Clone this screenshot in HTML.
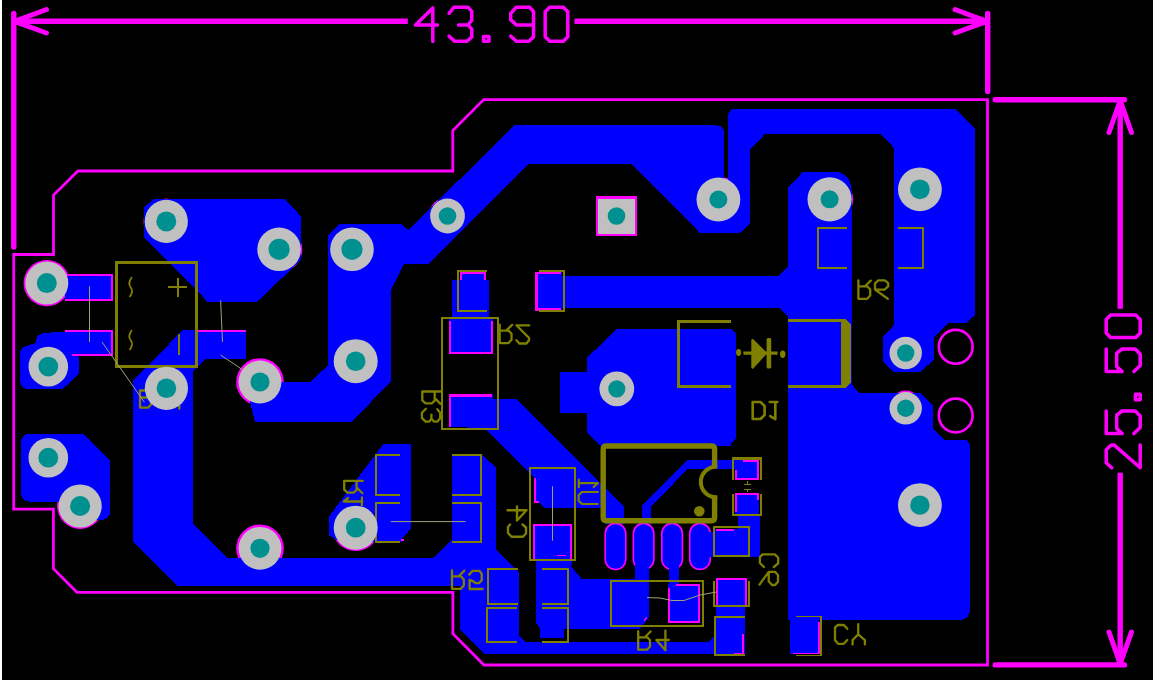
<!DOCTYPE html>
<html><head><meta charset="utf-8"><title>PCB</title>
<style>html,body{margin:0;padding:0;background:#000;overflow:hidden}svg{display:block}</style></head>
<body><svg width="1153" height="682" viewBox="0 0 1153 682">
<rect width="1153" height="682" fill="#000"/>
<circle cx="166.3" cy="221.4" r="22.8" fill="#FF00FF"/>
<circle cx="46.8" cy="283.1" r="23.2" fill="#FF00FF"/>
<circle cx="166.4" cy="388.3" r="22.6" fill="#FF00FF"/>
<circle cx="80.1" cy="506" r="23.0" fill="#FF00FF"/>
<circle cx="279.1" cy="249.3" r="23.2" fill="#FF00FF"/>
<circle cx="260" cy="382" r="23.799999999999997" fill="#FF00FF"/>
<circle cx="260" cy="548.3" r="23.799999999999997" fill="#FF00FF"/>
<circle cx="355.7" cy="527.7" r="23.4" fill="#FF00FF"/>
<circle cx="447.5" cy="216" r="18.799999999999997" fill="#FF00FF"/>
<circle cx="718.4" cy="199.5" r="23.099999999999998" fill="#FF00FF"/>
<circle cx="829.6" cy="199.3" r="23.5" fill="#FF00FF"/>
<circle cx="905.7" cy="408.2" r="17.599999999999998" fill="#FF00FF"/>
<g shape-rendering="crispEdges">
<polygon points="143.6,208 153,199.3 284.9,199.3 300.5,215.6 300.5,260.3 256.6,302.3 208.3,302.3 143.6,237.4" fill="#0000FF" />
<rect x="64.5" y="273.9" width="48.9" height="26.9" fill="#0000FF" />
<rect x="64.5" y="329.5" width="48.9" height="26.0" fill="#0000FF" />
<path d="M64.5,331.6 L44,333 Q36.4,334 36.4,340 L36.4,343 Q28,345 24,347 Q20.2,349 20.2,354 L20.2,381 Q20.2,389.3 29,389.3 L62.4,389.3 L78.7,374.3 L78.7,356.7 L72.9,354.6 Z" fill="#0000FF"/>
<path d="M30.8,433.7 L83.3,433.7 L110.3,460.7 L110.3,510 Q110.3,520 100,520 L80,520 L60,501.8 L30.8,501.8 Q20.8,501.8 20.8,491.8 L20.8,443.7 Q20.8,433.7 30.8,433.7 Z" fill="#0000FF"/>
<polygon points="183.2,329.5 246.2,329.5 246.2,358.5 206,358.5 192.5,372 192.5,523.3 226.9,557.6 433.4,557.6 452.2,539.3 452.2,455 482.4,455 495.9,467.5 495.9,549.4 519,572 519,635.3 526,642.3 707.9,642.3 714,637 716,637 716,653.6 484.6,653.6 459.7,629 459.7,586.2 178,586.2 133.2,542 133.2,380.6" fill="#0000FF" />
<rect x="716.1" y="605" width="28.4" height="49.8" fill="#0000FF" />
<polygon points="383,444.4 411.2,444.4 411.2,528.5 402.4,538.2 402.4,542 340,542 329.4,535.6 329.4,516" fill="#0000FF" />
<path d="M328,235.3 L339,224.3 L402,224.3 L408.2,230 L514.5,125.4 L716,125.4 Q724,125.4 724,133.4 L724,200 L750.4,200 L750.4,222.7 L740,233 L700,233 L631.4,163.9 L529,163.9 L429,263.7 L404,263.7 L391,290 L391,381 L352,422 L255,422 L250,402 L262,382 L310.3,382 L328,365.3 Z" fill="#0000FF"/>
<path d="M728.2,205 L728.2,116.7 Q728.2,108.7 736.2,108.7 L955.3,108.7 L974.8,128.3 L974.8,315.5 L966,323.2 L948.4,323.2 L934.4,337.5 L934.4,359.3 L920.3,371.8 L893.2,371.8 L883.4,362.4 L883.4,336.4 L894.3,324.6 L894.3,148.3 L880.4,134.3 L764.7,134.3 L750.4,148.7 L750.4,222.7 L740,233 L728.2,233 Z" fill="#0000FF"/>
<path d="M787.7,187.4 L803.2,171.8 L836.5,171.8 Q851.6,174 851.6,192 L851.6,384.3 L858.9,392.6 L920.3,392.6 L933.2,406.2 L933.2,429 L944.2,439.5 L962.2,439.5 Q970.2,439.5 970.2,447.5 L970.2,608.1 Q970.2,620.1 958.2,620.1 L819.3,620.1 L819.3,654 L790.2,654 L790.2,620.1 L787.7,620.1 L787.7,316.6 L779.8,308.2 L545,308.2 L545,275.9 L778.6,275.9 L787.7,266.6 Z" fill="#0000FF"/>
<rect x="452" y="280" width="36.5" height="41" fill="#0000FF" />
<rect x="460" y="272" width="26" height="10" fill="#0000FF" />
<rect x="535" y="272" width="27.4" height="38.5" fill="#0000FF" />
<rect x="449" y="318" width="44" height="36" fill="#0000FF" />
<polygon points="559.9,372 587.3,372 587.3,357.5 616.5,329.1 731.1,329.1 736.3,334.1 736.3,438 730.5,444.2 730.5,446 600,446 587.3,432.4 587.3,412.6 559.9,412.6" fill="#0000FF" />
<polygon points="449,394 493,394 493,398.5 515.5,398.5 623.6,506.6 623.6,524 605,524 605,508.2 544.5,508.2 538.7,502.4 533.5,502.4 533.5,477 484.3,427.8 449,427.2" fill="#0000FF" />
<polygon points="533.3,524 572.4,524 572.4,560 571.3,566.5 581.4,578.5 635,578.5 635,555 649,555 649,617.4 640,629 563.5,629 563.5,638 540,638 540,628.2 536.2,623.6 536.2,560 533.3,560" fill="#0000FF" />
<polygon points="736,460.3 686.8,460.3 642.3,505 642.3,524 650.9,524 650.9,506.3 687.6,469.3 736,469.3" fill="#0000FF" />
<rect x="735" y="460" width="24.4" height="19.6" fill="#0000FF" />
<rect x="735" y="493" width="24.4" height="23" fill="#0000FF" />
<rect x="738.4" y="516" width="21.1" height="41" fill="#0000FF" />
<rect x="714.9" y="529" width="33.1" height="28" fill="#0000FF" />
<rect x="705" y="531.5" width="11" height="25.5" fill="#0000FF" />
<rect x="716.1" y="577.6" width="30.8" height="27.4" fill="#0000FF" />
<rect x="668.8" y="560" width="10.2" height="26" fill="#0000FF" />
<rect x="667.6" y="584.3" width="32.4" height="38.5" fill="#0000FF" />
</g>
<rect x="605.2" y="523.4" width="20.6" height="46.1" rx="10.3" ry="10.3" fill="#0000FF" stroke="#FF00FF" stroke-width="1.6"/>
<rect x="633.3000000000001" y="523.4" width="20.6" height="46.1" rx="10.3" ry="10.3" fill="#0000FF" stroke="#FF00FF" stroke-width="1.6"/>
<rect x="661.8000000000001" y="523.4" width="20.6" height="46.1" rx="10.3" ry="10.3" fill="#0000FF" stroke="#FF00FF" stroke-width="1.6"/>
<rect x="689.7" y="523.4" width="20.6" height="46.1" rx="10.3" ry="10.3" fill="#0000FF" stroke="#FF00FF" stroke-width="1.6"/>
<g shape-rendering="crispEdges">
<rect x="635" y="545" width="14" height="35" fill="#0000FF" />
<rect x="668.8" y="545" width="10.2" height="41" fill="#0000FF" />
<rect x="705" y="531.5" width="11" height="25.5" fill="#0000FF" />
</g>
<g shape-rendering="crispEdges">
<path d="M64.5,274.9 L112.4,274.9 L112.4,299.8 L64.5,299.8" fill="none" stroke="#FF00FF" stroke-width="2" stroke-linecap="butt" stroke-linejoin="miter" />
<path d="M64.5,330.5 L112.4,330.5 L112.4,354.5 L72,354.5" fill="none" stroke="#FF00FF" stroke-width="2" stroke-linecap="butt" stroke-linejoin="miter" />
<path d="M197.3,330.5 L246.2,330.5" fill="none" stroke="#FF00FF" stroke-width="2" stroke-linecap="butt" stroke-linejoin="miter" />
<path d="M461,280 L461,273 L485,273 L485,280" fill="none" stroke="#FF00FF" stroke-width="2" stroke-linecap="butt" stroke-linejoin="miter" />
<path d="M561,273 L536.5,273 L536.5,309.5 L561,309.5" fill="none" stroke="#FF00FF" stroke-width="2.2" stroke-linecap="butt" stroke-linejoin="miter" />
<path d="M536.3,272 L536.3,310.6" fill="none" stroke="#FF00FF" stroke-width="3" stroke-linecap="butt" stroke-linejoin="miter" />
<path d="M450,321 L450,353 L492,353 L492,321" fill="none" stroke="#FF00FF" stroke-width="2" stroke-linecap="butt" stroke-linejoin="miter" />
<path d="M450,427 L450,395.5 L492,395.5" fill="none" stroke="#FF00FF" stroke-width="2.4" stroke-linecap="butt" stroke-linejoin="miter" />
<path d="M534.5,478 L534.5,501.5 L539,501.5" fill="none" stroke="#FF00FF" stroke-width="2" stroke-linecap="butt" stroke-linejoin="miter" />
<path d="M534.3,560 L534.3,525 L571.4,525 L571.4,560" fill="none" stroke="#FF00FF" stroke-width="2" stroke-linecap="butt" stroke-linejoin="miter" />
<path d="M556.5,555.3 L565.5,555.3" fill="none" stroke="#FF00FF" stroke-width="1.2" stroke-linecap="butt" stroke-linejoin="miter" />
<path d="M736,470 L736,478.6 L758.4,478.6 L758.4,461 L743,461" fill="none" stroke="#FF00FF" stroke-width="2" stroke-linecap="butt" stroke-linejoin="miter" />
<path d="M736,512 L736,494 L758.4,494 L758.4,500" fill="none" stroke="#FF00FF" stroke-width="2" stroke-linecap="butt" stroke-linejoin="miter" />
<path d="M716,530.2 L734,530.2" fill="none" stroke="#FF00FF" stroke-width="2" stroke-linecap="butt" stroke-linejoin="miter" />
<path d="M717.1,605 L717.1,578.6 L745.9,578.6 L745.9,605" fill="none" stroke="#FF00FF" stroke-width="2" stroke-linecap="butt" stroke-linejoin="miter" />
<path d="M742.6,634 L742.6,653.8 L734,653.8" fill="none" stroke="#FF00FF" stroke-width="2" stroke-linecap="butt" stroke-linejoin="miter" />
<path d="M676,585.3 L699,585.3 L699,621.8 L668.6,621.8 L668.6,588" fill="none" stroke="#FF00FF" stroke-width="2.2" stroke-linecap="butt" stroke-linejoin="miter" />
<path d="M644,620.5 L647,617.5" fill="none" stroke="#FF00FF" stroke-width="2" stroke-linecap="butt" stroke-linejoin="miter" />
<path d="M819,622 L819,653.5 L793,653.5" fill="none" stroke="#FF00FF" stroke-width="1.4" stroke-linecap="butt" stroke-linejoin="miter" />
<path d="M400.5,540.3 L403.6,540.3" fill="none" stroke="#FF00FF" stroke-width="2" stroke-linecap="butt" stroke-linejoin="miter" />
</g>
<path d="M13.7,254.5 L53.5,254.5 L53.5,195 L78,171 L452.8,171 L452.8,130.6 L483.7,99.6 L987.5,99.6 L987.5,665 L484,665 L452.9,633.7 L452.9,592.3 L77,592.3 L53.4,568.7 L53.4,509.2 L13.7,509.2 Z" fill="none" stroke="#FF00FF" stroke-width="2.8" stroke-linejoin="miter"/>
<circle cx="955.7" cy="346.8" r="16.9" fill="none" stroke="#FF00FF" stroke-width="2.6"/>
<circle cx="955.7" cy="415.5" r="16.9" fill="none" stroke="#FF00FF" stroke-width="2.6"/>
<path d="M13.8,21.3 L407.8,21.3" fill="none" stroke="#FF00FF" stroke-width="5.4" stroke-linecap="butt" stroke-linejoin="miter" />
<path d="M574.5,21.3 L987.7,21.3" fill="none" stroke="#FF00FF" stroke-width="5.4" stroke-linecap="butt" stroke-linejoin="miter" />
<path d="M13.8,13.5 L13.8,247" fill="none" stroke="#FF00FF" stroke-width="5.4" stroke-linecap="round" stroke-linejoin="miter" />
<path d="M987.7,13.5 L987.7,91.5" fill="none" stroke="#FF00FF" stroke-width="5.4" stroke-linecap="round" stroke-linejoin="miter" />
<path d="M46.5,9.5 L14.5,21.3 L46.5,33" fill="none" stroke="#FF00FF" stroke-width="5" stroke-linecap="round" stroke-linejoin="round" />
<path d="M955,9.5 L987,21.3 L955,33" fill="none" stroke="#FF00FF" stroke-width="5" stroke-linecap="round" stroke-linejoin="round" />
<path d="M1120.2,100 L1120.2,308.7" fill="none" stroke="#FF00FF" stroke-width="5.4" stroke-linecap="butt" stroke-linejoin="miter" />
<path d="M1120.2,472.8 L1120.2,664.8" fill="none" stroke="#FF00FF" stroke-width="5.4" stroke-linecap="butt" stroke-linejoin="miter" />
<path d="M995.3,99.8 L1124.5,99.8" fill="none" stroke="#FF00FF" stroke-width="5.4" stroke-linecap="round" stroke-linejoin="miter" />
<path d="M995.3,664.9 L1124.5,664.9" fill="none" stroke="#FF00FF" stroke-width="5.4" stroke-linecap="round" stroke-linejoin="miter" />
<path d="M1109,132.5 L1120.2,100.5 L1131.5,132.5" fill="none" stroke="#FF00FF" stroke-width="5" stroke-linecap="round" stroke-linejoin="round" />
<path d="M1109,632 L1120.2,664 L1131.5,632" fill="none" stroke="#FF00FF" stroke-width="5" stroke-linecap="round" stroke-linejoin="round" />
<path d="M17.3,0.8 L17.3,34.2 M17.3,0.8 L0,17.8 L22,17.8" transform="translate(415.5,7.2)" fill="none" stroke="#FF00FF" stroke-width="3.5" stroke-linejoin="round" stroke-linecap="round"/>
<path d="M0,6.3 L5,0 L19,0 L22.8,4.2 L22.8,13 L19,17.7 L9.5,17.7 M19,17.7 L22.8,21.9 L22.8,29.7 L18.1,34 L5.6,34 L0,28.9" transform="translate(449,7.2)" fill="none" stroke="#FF00FF" stroke-width="3.5" stroke-linejoin="round" stroke-linecap="round"/>
<path d="M0.5,29.2 L6,29.2 L6,34 L0.5,34 Z" transform="translate(483,7.2)" fill="none" stroke="#FF00FF" stroke-width="3.5" stroke-linejoin="round" stroke-linecap="round"/>
<path d="M22.8,17.7 L5.6,17.7 L0,12.5 L0,6.3 L5.6,0 L18.9,0 L22.8,4.2 L22.8,29.7 L18.1,34 L5.6,34 L0,28.9" transform="translate(510.7,7.2)" fill="none" stroke="#FF00FF" stroke-width="3.5" stroke-linejoin="round" stroke-linecap="round"/>
<path d="M4.5,0 L18.1,0 L22.6,4.5 L22.6,29.5 L18.1,34 L4.5,34 L0,29.5 L0,4.5 Z" transform="translate(545.2,7.2)" fill="none" stroke="#FF00FF" stroke-width="3.5" stroke-linejoin="round" stroke-linecap="round"/>
<path d="M0,5.5 L5,0 L18,0 L22.6,5 L22.6,8 L0,34 L22.6,34" transform="matrix(0,-1,1,0,1106.2,467.7)" fill="none" stroke="#FF00FF" stroke-width="3.5" stroke-linejoin="round" stroke-linecap="round"/>
<path d="M22.6,0 L0,0 L0,16 L5,10.5 L18.5,10.5 L22.6,15.8 L22.6,29 L17.5,34 L6,34 L0,27.7" transform="matrix(0,-1,1,0,1106.2,433.6)" fill="none" stroke="#FF00FF" stroke-width="3.5" stroke-linejoin="round" stroke-linecap="round"/>
<path d="M0.5,29.2 L6,29.2 L6,34 L0.5,34 Z" transform="matrix(0,-1,1,0,1106.2,400.2)" fill="none" stroke="#FF00FF" stroke-width="3.5" stroke-linejoin="round" stroke-linecap="round"/>
<path d="M22.6,0 L0,0 L0,16 L5,10.5 L18.5,10.5 L22.6,15.8 L22.6,29 L17.5,34 L6,34 L0,27.7" transform="matrix(0,-1,1,0,1106.2,371.6)" fill="none" stroke="#FF00FF" stroke-width="3.5" stroke-linejoin="round" stroke-linecap="round"/>
<path d="M4.5,0 L18.1,0 L22.6,4.5 L22.6,29.5 L18.1,34 L4.5,34 L0,29.5 L0,4.5 Z" transform="matrix(0,-1,1,0,1106.2,337.6)" fill="none" stroke="#FF00FF" stroke-width="3.5" stroke-linejoin="round" stroke-linecap="round"/>
<g shape-rendering="crispEdges">
<rect x="116" y="262.3" width="80" height="104.3" fill="none" stroke="#808000" stroke-width="3"/>
<path d="M847,228 L817.6,228 L817.6,267.5 L847,267.5" fill="none" stroke="#808000" stroke-width="2" stroke-linecap="butt" stroke-linejoin="miter" />
<path d="M897.8,228 L923,228 L923,267.5 L897.8,267.5" fill="none" stroke="#808000" stroke-width="2" stroke-linecap="butt" stroke-linejoin="miter" />
<path d="M487,271 L457.6,271 L457.6,311 L487,311" fill="none" stroke="#808000" stroke-width="2" stroke-linecap="butt" stroke-linejoin="miter" />
<path d="M539,271 L563.6,271 L563.6,311 L539,311" fill="none" stroke="#808000" stroke-width="2" stroke-linecap="butt" stroke-linejoin="miter" />
<rect x="442.2" y="318.2" width="55.7" height="111.1" fill="none" stroke="#808000" stroke-width="2"/>
<path d="M400,454.5 L375.5,454.5 L375.5,494.6 L400,494.6" fill="none" stroke="#808000" stroke-width="2" stroke-linecap="butt" stroke-linejoin="miter" />
<path d="M400,503.4 L375.5,503.4 L375.5,542.4 L400,542.4" fill="none" stroke="#808000" stroke-width="2" stroke-linecap="butt" stroke-linejoin="miter" />
<path d="M451.6,454.5 L481.4,454.5 L481.4,494.6 L451.6,494.6" fill="none" stroke="#808000" stroke-width="2" stroke-linecap="butt" stroke-linejoin="miter" />
<path d="M451.6,503.4 L481.4,503.4 L481.4,542.4 L451.6,542.4" fill="none" stroke="#808000" stroke-width="2" stroke-linecap="butt" stroke-linejoin="miter" />
<rect x="530.2" y="468" width="45.1" height="92" fill="none" stroke="#808000" stroke-width="2.2"/>
<path d="M517.7,569.1 L488.4,569.1 L488.4,603.5 L517.7,603.5" fill="none" stroke="#808000" stroke-width="2" stroke-linecap="butt" stroke-linejoin="miter" />
<path d="M516.6,607.7 L487.2,607.7 L487.2,642.3 L516.6,642.3" fill="none" stroke="#808000" stroke-width="2" stroke-linecap="butt" stroke-linejoin="miter" />
<path d="M542.4,569.1 L567.6,569.1 L567.6,603.5 L542.4,603.5" fill="none" stroke="#808000" stroke-width="2" stroke-linecap="butt" stroke-linejoin="miter" />
<path d="M542.4,607.7 L567.6,607.7 L567.6,642.3 L542.4,642.3" fill="none" stroke="#808000" stroke-width="2" stroke-linecap="butt" stroke-linejoin="miter" />
<rect x="610.5" y="581" width="92.5" height="45.2" fill="none" stroke="#808000" stroke-width="2"/>
<path d="M733,479.6 L733,458.2 L760.8,458.2 L760.8,479.6" fill="none" stroke="#808000" stroke-width="2.6" stroke-linecap="butt" stroke-linejoin="miter" />
<path d="M733,494.2 L733,514.8 L760.8,514.8 L760.8,494.2" fill="none" stroke="#808000" stroke-width="2.6" stroke-linecap="butt" stroke-linejoin="miter" />
<rect x="714.3" y="527.3" width="35" height="28.7" fill="none" stroke="#808000" stroke-width="2"/>
<path d="M714.3,581 L714.3,605.8 L749,605.8 L749,581" fill="none" stroke="#808000" stroke-width="2" stroke-linecap="butt" stroke-linejoin="miter" />
<path d="M744.5,617.3 L715.4,617.3 L715.4,655 L744.5,655" fill="none" stroke="#808000" stroke-width="2" stroke-linecap="butt" stroke-linejoin="miter" />
<path d="M796.4,616.4 L821.2,616.4 L821.2,655.4 L796.4,655.4" fill="none" stroke="#808000" stroke-width="1.6" stroke-linecap="butt" stroke-linejoin="miter" />
<path d="M731.1,321 L678.5,321 L678.5,386.5 L731.1,386.5" fill="none" stroke="#808000" stroke-width="3" stroke-linecap="butt" stroke-linejoin="miter" />
<path d="M788,319.4 L846,319.4 L851.2,324.6 L851.2,382.6 L846,387.8 L788,387.8 L788,385 L840.8,385 L840.8,322.4 L788,322.4 Z" fill="#808000"/>
</g>
<path d="M714.6,467 L714.6,449.2 Q714.6,446 711.4,446 L606.4,446 Q603.2,446 603.2,449.2 L603.2,517.6 Q603.2,520.8 606.4,520.8 L711.4,520.8 Q714.6,520.8 714.6,517.6 L714.6,497" fill="none" stroke="#808000" stroke-width="5.4"/>
<path d="M717.3,466.8 L714.9,466.8 A15.3,15.3 0 0 0 714.9,497.3 L717.3,497.3" fill="none" stroke="#808000" stroke-width="4"/>
<circle cx="699.3" cy="511.3" r="5.3" fill="#808000"/>
<path d="M743.4,353.1 L777.6,353.1" fill="none" stroke="#808000" stroke-width="3.4" stroke-linecap="butt" stroke-linejoin="miter" />
<path d="M752.6,340.3 L765.5,353.2 L752.6,367.4 Z" fill="#808000" stroke="#808000" stroke-width="2.6" stroke-linejoin="round"/>
<rect x="766.6" y="338" width="4.6" height="30.4" rx="1.5" fill="#808000"/>
<ellipse cx="738.6" cy="352.5" rx="2.5" ry="3.4" fill="#808000"/><ellipse cx="782.7" cy="354.3" rx="2.7" ry="3.7" fill="#808000"/>
<g shape-rendering="crispEdges"><path d="M743.7,484 L750.7,484 M743.7,489 L750.7,489 M747,481 L747,484 M747,489 L747,492" stroke="#808000" stroke-width="1"/></g>
<path d="M132,277 Q127.5,283 130.5,287 Q134,291.5 129.5,297" fill="none" stroke="#808000" stroke-width="1.8" stroke-linecap="butt" stroke-linejoin="miter" />
<path d="M132,330 Q127.5,336 130.5,340 Q134,344.5 129.5,350" fill="none" stroke="#808000" stroke-width="1.8" stroke-linecap="butt" stroke-linejoin="miter" />
<path d="M168,287.3 L187,287.3 M177.6,277.5 L177.6,297" fill="none" stroke="#808000" stroke-width="2" stroke-linecap="butt" stroke-linejoin="miter" shape-rendering="crispEdges"/>
<path d="M179,334 L179,354.5" fill="none" stroke="#808000" stroke-width="2" stroke-linecap="butt" stroke-linejoin="miter" shape-rendering="crispEdges"/>
<path d="M140,390.5 L140,407.6 L148,407.6 L151,404.5 L151,399.5 L148.5,397.5 L140,397.5 M140,390.5 L147,390.5 L149.5,393 L149.5,396 L148.5,397.5 M179.3,406 L179.3,408.6" fill="none" stroke="#808000" stroke-width="2.3" stroke-linecap="round" stroke-linejoin="round" />
<path d="M0,18.5 L0,0 L8.8,0 L11.8,3.3 L11.8,9.4 L9.1,12.4 L0,12.4 M7.1,13 L12.4,18.2" transform="matrix(1,0,0,-1,858.4,298.8)" fill="none" stroke="#808000" stroke-width="2.3" stroke-linejoin="round" stroke-linecap="round"/>
<path d="M12.8,0 L0,9.2 L0,15.4 L3.2,18.5 L9.9,18.5 L13.2,15.6 L13.2,12.5 L9.5,9.2 L0,9.2" transform="matrix(1,0,0,-1,875,298.8)" fill="none" stroke="#808000" stroke-width="2.3" stroke-linejoin="round" stroke-linecap="round"/>
<path d="M0,18.5 L0,0 L8.8,0 L11.8,3.3 L11.8,9.4 L9.1,12.4 L0,12.4 M7.1,13 L12.4,18.2" transform="matrix(1,0,0,-1,499.7,343.1)" fill="none" stroke="#808000" stroke-width="2.3" stroke-linejoin="round" stroke-linecap="round"/>
<path d="M0,3.3 L2.9,0 L10,0 L12.6,3.3 L12.6,5.6 L0,18.2 L12.9,18.2" transform="matrix(1,0,0,-1,516.4,343.5)" fill="none" stroke="#808000" stroke-width="2.3" stroke-linejoin="round" stroke-linecap="round"/>
<path d="M0,18.5 L0,0 L8.8,0 L11.8,3.3 L11.8,9.4 L9.1,12.4 L0,12.4 M7.1,13 L12.4,18.2" transform="matrix(1,0,0,-1,452,588.8)" fill="none" stroke="#808000" stroke-width="2.3" stroke-linejoin="round" stroke-linecap="round"/>
<path d="M13.5,0 L0.5,0 L0.5,9.1 L4.1,7.7 L6.4,5.9 L9.9,5.9 L12.6,8.8 L12.6,15.3 L10.2,18.2 L3.5,18.2 L0,14.4" transform="matrix(1,0,0,-1,469.1,589.0)" fill="none" stroke="#808000" stroke-width="2.3" stroke-linejoin="round" stroke-linecap="round"/>
<path d="M0,18.5 L0,0 L8.8,0 L11.8,3.3 L11.8,9.4 L9.1,12.4 L0,12.4 M7.1,13 L12.4,18.2" transform="matrix(1,0,0,-1,638.2,649.7)" fill="none" stroke="#808000" stroke-width="2.3" stroke-linejoin="round" stroke-linecap="round"/>
<path d="M665.4,630.6 L665.4,650.2 L656.3,640 L668.8,640" fill="none" stroke="#808000" stroke-width="2.3" stroke-linecap="round" stroke-linejoin="round" />
<path d="M0,18.5 L0,0 L8.8,0 L11.8,3.3 L11.8,9.4 L9.1,12.4 L0,12.4 M7.1,13 L12.4,18.2" transform="matrix(0,1,1,0,422.3,391.5)" fill="none" stroke="#808000" stroke-width="2.3" stroke-linejoin="round" stroke-linecap="round"/>
<path d="M0,4 L4,0 L9.1,0 L12.8,3.7 L12.8,7.3 L9.9,9.5 L5.8,9.5 M9.9,9.5 L12.8,12.1 L12.8,15.4 L9.5,18.3 L4,18.3 L0.3,15.4" transform="matrix(0,1,1,0,421.9,408.8)" fill="none" stroke="#808000" stroke-width="2.3" stroke-linejoin="round" stroke-linecap="round"/>
<path d="M0,18.5 L0,0 L8.8,0 L11.8,3.3 L11.8,9.4 L9.1,12.4 L0,12.4 M7.1,13 L12.4,18.2" transform="matrix(0,1,1,0,344.2,480.9)" fill="none" stroke="#808000" stroke-width="2.3" stroke-linejoin="round" stroke-linecap="round"/>
<path d="M0.6,4.3 L4.1,0 L4.1,18.5 M0,18.1 L7.9,18.1" transform="matrix(0,1,1,0,343.8,497.4)" fill="none" stroke="#808000" stroke-width="2.3" stroke-linejoin="round" stroke-linecap="round"/>
<path d="M12.6,4 L8.6,0 L2.7,0 L0,2.6 L0,15 L3.4,18.3 L8.9,18.3 L12.6,13.9" transform="matrix(0,1,1,0,759.9,554.4)" fill="none" stroke="#808000" stroke-width="2.3" stroke-linejoin="round" stroke-linecap="round"/>
<path d="M12.8,0 L0,9.2 L0,15.4 L3.2,18.5 L9.9,18.5 L13.2,15.6 L13.2,12.5 L9.5,9.2 L0,9.2" transform="matrix(0,1,1,0,759.5,571.8)" fill="none" stroke="#808000" stroke-width="2.3" stroke-linejoin="round" stroke-linecap="round"/>
<path d="M510,524.5 L508,527 L508,533 L511.5,536.8 L523,536.8 L526,533.5 L526,527.5 L522.5,524.5" fill="none" stroke="#808000" stroke-width="2.4" stroke-linecap="round" stroke-linejoin="round" />
<path d="M507.5,510.2 L526.5,510.2 L517,520.5 L517,506.5" fill="none" stroke="#808000" stroke-width="2.4" stroke-linecap="round" stroke-linejoin="round" />
<path d="M578.8,479.5 L578.8,487.2 M578.6,483.2 L597.8,483.2 L593.6,487" fill="none" stroke="#808000" stroke-width="2.2" stroke-linecap="round" stroke-linejoin="round" />
<path d="M597.8,492 L582,492 L578.6,495.2 L578.6,500.8 L582,504 L597.8,504" fill="none" stroke="#808000" stroke-width="2.2" stroke-linecap="round" stroke-linejoin="round" />
<path d="M752.7,402 L752.7,419 L760.5,419 L764.6,415 L764.6,406 L760.5,402 Z" fill="none" stroke="#808000" stroke-width="2.6" stroke-linecap="round" stroke-linejoin="round" />
<path d="M775.3,402 L775.3,419.2 L770.2,416.2 M769.8,402 L777.4,402" fill="none" stroke="#808000" stroke-width="2.6" stroke-linecap="round" stroke-linejoin="round" />
<path d="M847.3,628.8 L843.8,625 L837.6,625 L835,627.6 L835,640.2 L838.2,643.8 L843.8,643.8 L847.3,640" fill="none" stroke="#808000" stroke-width="2.3" stroke-linecap="round" stroke-linejoin="round" />
<path d="M858.2,624.1 L858.2,634.4 L852.6,640 L852.6,644.6 M858.2,634.4 L864.9,640.2 L864.9,644.6" fill="none" stroke="#808000" stroke-width="2.3" stroke-linecap="round" stroke-linejoin="round" />
<circle cx="166.3" cy="221.4" r="21.6" fill="#C0C0C0"/><circle cx="166.3" cy="221.4" r="10" fill="#009090"/>
<circle cx="46.8" cy="283.1" r="21.5" fill="#C0C0C0"/><circle cx="46.8" cy="283.1" r="10" fill="#009090"/>
<circle cx="48.3" cy="366.6" r="19.8" fill="#C0C0C0"/><circle cx="48.3" cy="366.6" r="9.9" fill="#009090"/>
<circle cx="166.4" cy="388.3" r="21.6" fill="#C0C0C0"/><circle cx="166.4" cy="388.3" r="9.8" fill="#009090"/>
<circle cx="48.3" cy="457.7" r="19.8" fill="#C0C0C0"/><circle cx="48.3" cy="457.7" r="9.9" fill="#009090"/>
<circle cx="80.1" cy="506" r="21.6" fill="#C0C0C0"/><circle cx="80.1" cy="506" r="10" fill="#009090"/>
<circle cx="279.1" cy="249.3" r="21.8" fill="#C0C0C0"/><circle cx="279.1" cy="249.3" r="10.6" fill="#009090"/>
<circle cx="352" cy="249.3" r="21.8" fill="#C0C0C0"/><circle cx="352" cy="249.3" r="10.6" fill="#009090"/>
<circle cx="260" cy="382" r="21.4" fill="#C0C0C0"/><circle cx="260" cy="382" r="9.6" fill="#009090"/>
<circle cx="355.7" cy="361.2" r="22" fill="#C0C0C0"/><circle cx="355.7" cy="361.2" r="9.8" fill="#009090"/>
<circle cx="260" cy="548.3" r="21.4" fill="#C0C0C0"/><circle cx="260" cy="548.3" r="9.6" fill="#009090"/>
<circle cx="355.7" cy="527.7" r="22" fill="#C0C0C0"/><circle cx="355.7" cy="527.7" r="9.9" fill="#009090"/>
<circle cx="447.5" cy="216" r="17.4" fill="#C0C0C0"/><circle cx="447.5" cy="216" r="8.8" fill="#009090"/>
<circle cx="718.4" cy="199.5" r="21.9" fill="#C0C0C0"/><circle cx="718.4" cy="199.5" r="9" fill="#009090"/>
<circle cx="829.6" cy="199.3" r="22.1" fill="#C0C0C0"/><circle cx="829.6" cy="199.3" r="9" fill="#009090"/>
<circle cx="919.9" cy="189.3" r="21.9" fill="#C0C0C0"/><circle cx="919.9" cy="189.3" r="9.9" fill="#009090"/>
<circle cx="905.7" cy="353" r="16.2" fill="#C0C0C0"/><circle cx="905.7" cy="353" r="8.7" fill="#009090"/>
<circle cx="905.7" cy="408.2" r="16.2" fill="#C0C0C0"/><circle cx="905.7" cy="408.2" r="8.7" fill="#009090"/>
<circle cx="919.9" cy="505.1" r="21.9" fill="#C0C0C0"/><circle cx="919.9" cy="505.1" r="9.7" fill="#009090"/>
<circle cx="616.8" cy="388.8" r="17.4" fill="#C0C0C0"/><circle cx="616.8" cy="388.8" r="8.6" fill="#009090"/>
<rect x="597.2" y="197.4" width="38.9" height="37.8" fill="#C0C0C0" stroke="#FF00FF" stroke-width="2.4" shape-rendering="crispEdges"/>
<circle cx="616.5" cy="216" r="8.8" fill="#009090"/>
<path d="M89.5,286.2 L89.5,342" fill="none" stroke="#A0A07C" stroke-width="1" stroke-linecap="butt" stroke-linejoin="miter" />
<path d="M220.6,300.4 L222.5,342" fill="none" stroke="#A0A07C" stroke-width="1" stroke-linecap="butt" stroke-linejoin="miter" />
<path d="M102,342 L144.4,402.3" fill="none" stroke="#A0A07C" stroke-width="1" stroke-linecap="butt" stroke-linejoin="miter" />
<path d="M220.6,355 L243,370" fill="none" stroke="#A0A07C" stroke-width="1" stroke-linecap="butt" stroke-linejoin="miter" />
<path d="M390.8,521.6 L465.7,521.6" fill="none" stroke="#A0A07C" stroke-width="1" stroke-linecap="butt" stroke-linejoin="miter" />
<path d="M552.5,486.2 L552.5,540.7" fill="none" stroke="#A0A07C" stroke-width="1" stroke-linecap="butt" stroke-linejoin="miter" />
<path d="M647,597.6 L660,598 L672,600.5 L684,600.5 L700,595 L716.5,592" fill="none" stroke="#A0A07C" stroke-width="1" stroke-linecap="butt" stroke-linejoin="miter" />
<g shape-rendering="crispEdges"><rect x="0" y="0" width="2" height="682" fill="#FFFFFF"/><rect x="0" y="680" width="1153" height="2" fill="#FFFFFF"/></g>
</svg></body></html>
